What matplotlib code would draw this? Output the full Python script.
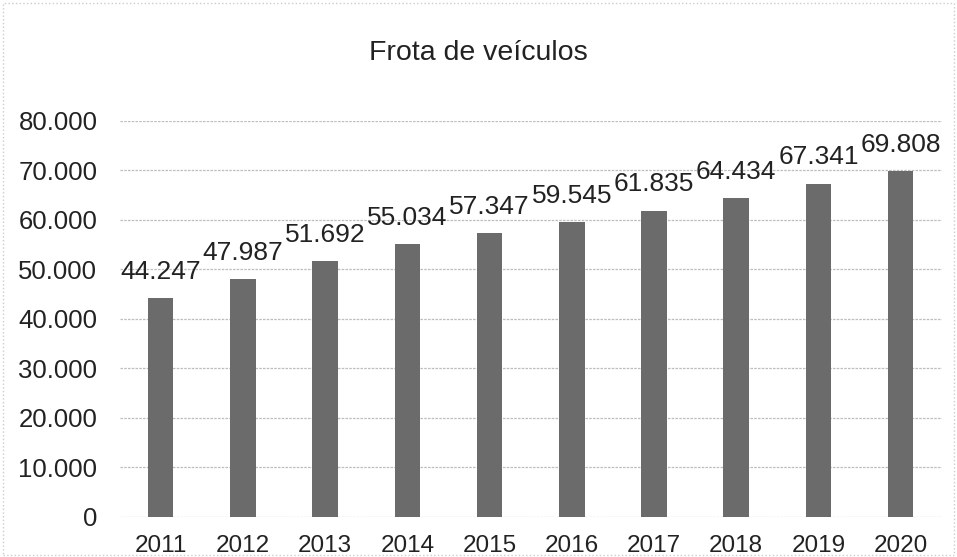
import matplotlib.pyplot as plt
from matplotlib.patches import Rectangle

plt.rcParams['font.family'] = ['Liberation Sans', 'DejaVu Sans']

# Frota de veiculos por ano
years = ['2011', '2012', '2013', '2014', '2015', '2016', '2017', '2018', '2019', '2020']
frota = [44247, 47987, 51692, 55034, 57347, 59545, 61835, 64434, 67341, 69808]
ticks = [0, 10000, 20000, 30000, 40000, 50000, 60000, 70000, 80000]


def fmt(v):
    # separador de milhar com ponto
    return f'{v:,}'.replace(',', '.')


fig = plt.figure(figsize=(9.57, 5.57), dpi=100)
ax = fig.add_axes([0.125, 0.072, 0.859, 0.711])

x = range(len(years))
bars = ax.bar(x, frota, width=0.31, color='#6b6b6b', zorder=2)

for b, v in zip(bars, frota):
    ax.text(b.get_x() + b.get_width() / 2, v + 2900, fmt(v), ha='center', va='bottom',
            fontsize=19, color='#222222')

ax.set_xlim(-0.5, len(years) - 0.5)
ax.set_ylim(0, 80000)
ax.set_yticks(ticks)
ax.set_yticklabels([fmt(t) for t in ticks], fontsize=18.5, color='#222222')
ax.set_xticks(list(x))
ax.set_xticklabels(years, fontsize=17.5, color='#222222')
ax.tick_params(axis='y', length=0, pad=16)
ax.tick_params(axis='x', length=0, pad=13)

ax.grid(axis='y', color='#bdbdbd', linestyle=(0, (2, 1)), linewidth=0.9, zorder=0)
for s in ax.spines.values():
    s.set_visible(False)

fig.text(0.5, 0.905, 'Frota de veículos', ha='center', va='center', fontsize=20.5, color='#222222')

# borda pontilhada do grafico
fig.patches.append(Rectangle((0.003, 0.004), 0.994, 0.99, transform=fig.transFigure,
                             fill=False, edgecolor='#cccccc', linestyle=':', linewidth=1))

fig.savefig('out.png', dpi=100)
